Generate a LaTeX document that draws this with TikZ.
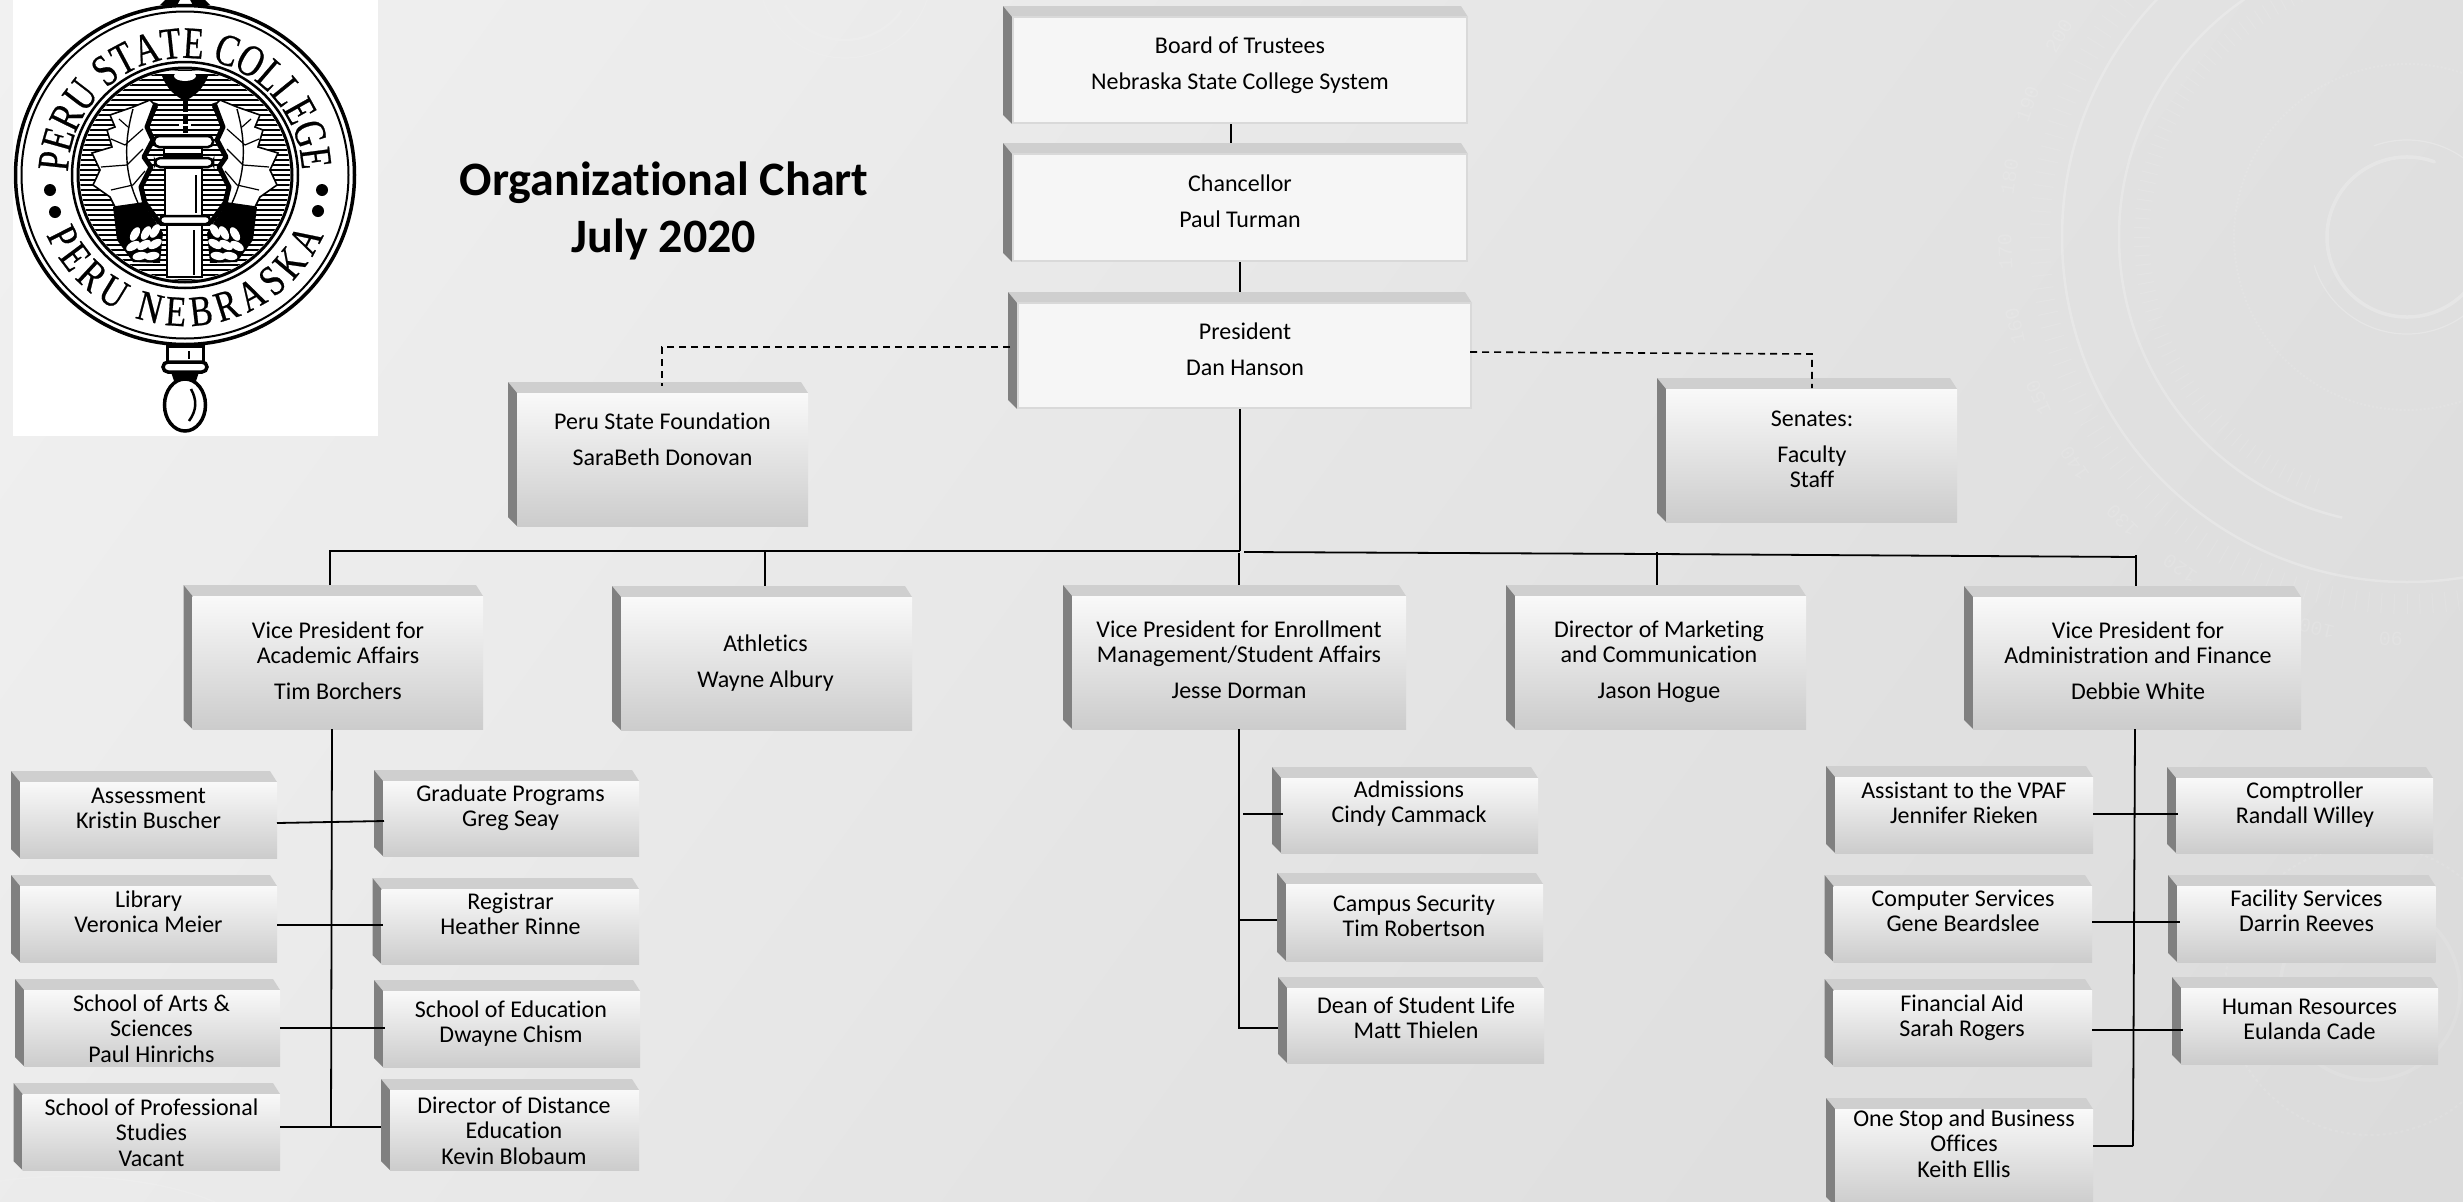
\documentclass[tikz,border=0pt]{standalone}
\usepackage{fontspec}
\usetikzlibrary{calc,decorations.text}
\setmainfont[Ligatures=NoCommon]{Carlito}
\newfontfamily\sealfontA[FakeStretch=0.76,FakeBold=0.5]{Liberation Serif}
\newfontfamily\sealfontB[FakeStretch=0.8,FakeBold=0.5]{Liberation Serif}
\newfontfamily\dialfont{Liberation Mono}
\newcommand{\sealTop}{\sealfontA\fontsize{45}{45}\selectfont}
\newcommand{\sealBot}{\sealfontB\fontsize{43}{43}\selectfont}
\newcommand{\orgbox}[9]{%
  \pgfmathsetmacro\obW{#4-#2}\pgfmathsetmacro\obH{#5-#3}%
  \pgfmathsetmacro\obX{(#2+#4)/2}\pgfmathsetmacro\obY{(#3+#5)/2}%
  \pgfmathsetmacro\obD{2*(#7-\obX)}\pgfmathsetmacro\obU{\obY-#8}%
  \node[#6,minimum width=\obW pt,minimum height=\obH pt] (#1) at (\obX,\obY)
    {\makebox[0pt]{\hspace{\obD pt}\raisebox{\obU pt}[0pt][0pt]{\begin{tabular}[t]{@{}c@{}}#9\end{tabular}}}};%
}
\definecolor{bevelDark}{HTML}{808080}
\definecolor{bevelTop}{HTML}{CFCFCF}
\definecolor{faceFlat}{HTML}{F6F6F6}
\definecolor{faceEdge}{HTML}{D9D9D9}
\definecolor{faceHigh}{HTML}{F9F9F9}
\definecolor{faceLow}{HTML}{CCCCCC}
\tikzset{
  boxbase/.style={inner sep=0pt,outer sep=0pt,font=\fontsize{24}{25.7}\selectfont},
  flatbox/.style={boxbase,path picture={
    \fill[bevelTop] (path picture bounding box.north west) -- ($(path picture bounding box.north east)+(-7,0)$) -- ($(path picture bounding box.north east)+(0,11)$) -- ($(path picture bounding box.north west)+(9,11)$) -- cycle;
    \fill[bevelDark] (path picture bounding box.north west) -- ($(path picture bounding box.north west)+(9,11)$) -- ($(path picture bounding box.south west)+(9,0)$) -- ($(path picture bounding box.south west)+(0,-9)$) -- cycle;
    \fill[faceFlat,draw=faceEdge,line width=2pt] ($(path picture bounding box.north west)+(10,11)$) rectangle ($(path picture bounding box.south east)+(-1,-1)$);
  }},
  gradbox/.style={boxbase,path picture={
    \fill[bevelTop] (path picture bounding box.north west) -- ($(path picture bounding box.north east)+(-7,0)$) -- ($(path picture bounding box.north east)+(0,11)$) -- ($(path picture bounding box.north west)+(9,11)$) -- cycle;
    \fill[bevelDark] (path picture bounding box.north west) -- ($(path picture bounding box.north west)+(9,11)$) -- ($(path picture bounding box.south west)+(9,0)$) -- ($(path picture bounding box.south west)+(0,-9)$) -- cycle;
    \shade[top color=faceHigh,bottom color=faceLow] ($(path picture bounding box.north west)+(9,11)$) rectangle (path picture bounding box.south east);
  }},
  conn/.style={black,line width=1.8pt},
  dashconn/.style={black,line width=1.6pt,dash pattern=on 7pt off 5pt},
  faint/.style={white,opacity=.22},
  fainter/.style={white,opacity=.1},
}
\begin{document}
\begin{tikzpicture}[x=1pt,y=-1pt]
\useasboundingbox (0,0) rectangle (2463,1202);
\clip (0,0) rectangle (2463,1202);
% background: diagonal gradient in one-level steps
\foreach \k in {0,...,46} {
  \pgfmathsetmacro\ss{\k/2}
  \pgfmathsetmacro\pp{(14+\ss)/2.55}
  \pgfmathsetmacro\xa{\ss/17*2463}
  \pgfmathsetmacro\xb{(\ss-6)/17*2463}
  \fill[black!\pp] (\xa,0) -- (5000,0) -- (5000,1202) -- (\xb,1202) -- cycle;
}
% faint dial decoration
\begin{scope}[shift={(2407,237)},y=1pt]
  \draw[faint,line width=2.5pt] (0,0) circle (345);
  \draw[faint,line width=2.5pt] (95:288) arc (95:257:288);
  \draw[faint,line width=3.5pt,line cap=round] (70:80) arc (70:340:80);
  \draw[faint,line width=1.2pt] (30:97) arc (30:110:97);
  \draw[faint,line width=1.2pt] (197:97) arc (197:330:97);
  \draw[fainter,line width=2pt,dotted] (0,0) circle (173);
  \foreach \aa in {128,130,...,300} \draw[fainter,line width=1pt] (\aa:357) -- (\aa:377);
  \foreach \aa in {98,100,...,250} \draw[fainter,line width=1pt] (\aa:257) -- (\aa:273);
  \foreach \nn in {200,190,...,90} {
    \pgfmathsetmacro\dd{150+(200-\nn)*1.07}
    \pgfmathsetmacro\rr{\dd-90}
    \node[text=white,opacity=.12,rotate=\rr,font=\dialfont\fontsize{20}{20}\selectfont] at (\dd:402) {\nn};
  }
\end{scope}
\begin{scope}[shift={(2370,990)},y=1pt]
  \draw[fainter,line width=3.5pt] (0,0) circle (90);
  \draw[fainter,line width=2pt,dashed] (0,0) circle (145);
\end{scope}
\begin{scope}[shift={(845,-29)},y=1pt]
  \draw[fainter,line width=2.5pt] (-150:69) arc (-150:-35:69);
  \draw[fainter,line width=1.2pt] (0,0) circle (87);
\end{scope}
\draw[fainter,line width=1.5pt] (0,1181) .. controls (60,1172) and (150,1175) .. (215,1202);
% logo
\fill[white] (13,0) rectangle (378,436);
\begin{scope}[shift={(185,175)},y=1pt]
  \draw[line width=3.5pt] (0,0) circle (169.5);
  \draw[line width=2pt] (0,0) circle (163.5);
  \draw[line width=2.5pt] (0,0) circle (113);
  \draw[line width=3pt] (0,0) circle (107);
  \begin{scope}
    \clip (0,0) circle (105);
    \foreach \yy in {-105,-100,...,105} \draw[line width=2pt] (-105,\yy) -- (105,\yy);
  \end{scope}
  \path[decorate,decoration={text along path,raise=-15pt,text={|\sealTop|PERU STATE COLLEGE},text align={fit to path}}] (178:132) arc (178:3:132);
  \path[decorate,decoration={text along path,raise=-15pt,text={|\sealBot|PERU NEBRASKA},text align={fit to path}}] (203:136) arc (203:337:136);
  \foreach \px/\py in {-135/-15,-130/-37,137/-15,133/-36} \fill (\px,\py) circle (6);
  % leaves, acorns
  \foreach \sx in {1,-1} {
    \begin{scope}[xscale=\sx]
      \fill[white,draw=black,line width=1.6pt] (-35,75) -- (-52,68) -- (-75,60) -- (-70,48) -- (-78,45) -- (-73,28) -- (-93,22) -- (-85,5) -- (-92,-10) -- (-75,-22) -- (-70,-32) -- (-42,-28) -- (-45,-12) -- (-35,8) -- (-42,18) -- (-33,35) -- (-38,48) -- (-28,68) -- cycle;
      \draw[line width=1.4pt] (-47,-28) .. controls (-60,0) and (-62,30) .. (-52,66);
      \draw[line width=1.2pt] (-58,10) -- (-84,8);
      \draw[line width=1.2pt] (-60,30) -- (-74,36);
      \draw[line width=1.2pt] (-57,48) -- (-66,56);
      \draw[line width=1.2pt] (-52,-10) -- (-74,-15);
      \draw[line width=1.2pt] (-58,10) -- (-42,26);
      \draw[line width=1.2pt] (-60,30) -- (-42,46);
      \draw[line width=1.2pt] (-52,-10) -- (-40,4);
      \draw[line width=5pt,line join=round] (-29,72) -- (-38,48) -- (-32,35) -- (-41,18) -- (-34,8) -- (-44,-12) -- (-40,-28) -- (-24,-50);
      \fill (-72,-32) -- (-42,-28) -- (-22,-58) -- (-25,-88) -- (-52,-87) -- (-68,-65) -- cycle;
      \foreach \ex/\ey/\er in {-30/-56/60,-39/-58/60,-30/-69/30,-41/-70/30,-52/-71/30,-33/-81/10,-45/-81/10,-50/-59/60} \fill[white,rotate around={\er:(\ex,\ey)}] (\ex,\ey) ellipse (7.5 and 4);
    \end{scope}
  }
  % torch
  \fill (-23,99) .. controls (-18,85) and (-8,78) .. (0,74) .. controls (8,78) and (18,85) .. (23,99) -- cycle;
  \fill[white] (0,99) ellipse (11 and 5);
  \draw[line width=5pt] (0,76) -- (0,42);
  \draw[line width=1.5pt,white] (-6,62) -- (6,62) (-6,50) -- (6,50);
  \fill[white,draw=black,line width=2.5pt,rounded corners=5pt] (-31,39) rectangle (28,28);
  \fill[black] (-22,28) rectangle (18,18);
  \fill[white] (-20,26) rectangle (16,22);
  \fill[white,draw=black,line width=2.5pt,rounded corners=5pt] (-30,17) rectangle (28,8);
  \fill[white,draw=black,line width=2.5pt] (-20,7) rectangle (17,-42);
  \draw[line width=2.5pt] (11,0) -- (11,-38);
  \fill[white,draw=black,line width=2.5pt,rounded corners=4pt] (-25,-41) rectangle (25,-49);
  \fill[white,draw=black,line width=2.5pt] (-18,-50) rectangle (17,-102);
  \draw[line width=2.5pt] (9,-55) -- (9,-100);
  % pendants
  \fill (-25,170) -- (-18,177) -- (-4,177) -- (-9,168) -- cycle;
  \fill (25,170) -- (18,177) -- (4,177) -- (9,168) -- cycle;
  \fill[white,draw=black,line width=3pt] (-18,-171) rectangle (18,-187);
  \draw[line width=2pt] (4,-176) -- (4,-184);
  \fill[white,draw=black,line width=3.5pt,rounded corners=5pt] (-22,-187) rectangle (22,-197);
  \fill[black] (-14,-197) -- (14,-197) -- (11,-206) -- (-11,-206) -- cycle;
  \fill[white,draw=black,line width=3.5pt] (0,-230) ellipse (20.5 and 26);
  \draw[line width=2.5pt] (6,-214) .. controls (12,-225) and (12,-235) .. (4,-246);
\end{scope}
% title
\node[anchor=base,inner sep=0pt,font=\bfseries\fontsize{48}{57}\selectfont] (title) at (664,195)
  {\begin{tabular}[t]{@{}c@{}}Organizational Chart\\July 2020\end{tabular}};
% boxes
\orgbox{board}{1003}{6}{1468}{124}{flatbox}{1240}{53}{Board of Trustees\\[10.3pt]Nebraska State College System}
\orgbox{chancellor}{1003}{143}{1468}{262}{flatbox}{1240}{191}{Chancellor\\[10.3pt]Paul Turman}
\orgbox{president}{1008}{292}{1472}{409}{flatbox}{1245}{339}{President\\[10.3pt]Dan Hanson}
\orgbox{peru}{508}{382}{808}{526}{gradbox}{662.5}{429}{Peru State Foundation\\[10.3pt]SaraBeth Donovan}
\orgbox{senates}{1657}{378}{1957}{522}{gradbox}{1812}{426}{Senates:\\[10.3pt]Faculty\\Staff}
\orgbox{vpacad}{183.5}{585}{483}{729}{gradbox}{338}{638}{Vice President for\\Academic Affairs\\[10.3pt]Tim Borchers}
\orgbox{athletics}{612}{586}{912}{730}{gradbox}{765.5}{651}{Athletics\\[10.3pt]Wayne Albury}
\orgbox{vpenroll}{1063}{585}{1406}{729}{gradbox}{1239}{637}{Vice President for Enrollment\\Management/Student Affairs\\[10.3pt]Jesse Dorman}
\orgbox{marketing}{1506}{585}{1806}{729}{gradbox}{1659}{637}{Director of Marketing\\and Communication\\[10.3pt]Jason Hogue}
\orgbox{vpadmin}{1964}{586}{2301}{729}{gradbox}{2138}{638}{Vice President for\\Administration and Finance\\[10.3pt]Debbie White}
\orgbox{assess}{11}{771}{277}{858}{gradbox}{148.5}{803}{Assessment\\Kristin Buscher}
\orgbox{library}{11}{875}{277}{962}{gradbox}{148.5}{907}{Library\\Veronica Meier}
\orgbox{arts}{15}{979}{280}{1066}{gradbox}{151.5}{1011}{School of Arts \&\\Sciences\\Paul Hinrichs}
\orgbox{profstud}{13.5}{1083}{280}{1170}{gradbox}{151.5}{1115}{School of Professional\\Studies\\Vacant}
\orgbox{graduate}{374}{770}{639}{856}{gradbox}{510.5}{801}{Graduate Programs\\Greg Seay}
\orgbox{registrar}{372.5}{878}{639}{964}{gradbox}{510.5}{909}{Registrar\\Heather Rinne}
\orgbox{education}{374}{980}{640}{1067}{gradbox}{511}{1017}{School of Education\\Dwayne Chism}
\orgbox{distance}{381}{1079}{639}{1170}{gradbox}{514}{1113}{Director of Distance\\Education\\Kevin Blobaum}
\orgbox{admissions}{1272}{767}{1538}{853}{gradbox}{1409}{797}{Admissions\\Cindy Cammack}
\orgbox{campus}{1277}{873}{1543}{961}{gradbox}{1414}{911}{Campus Security\\Tim Robertson}
\orgbox{dean}{1278}{977}{1544}{1063}{gradbox}{1416}{1013}{Dean of Student Life\\Matt Thielen}
\orgbox{assistant}{1826}{766}{2093}{853}{gradbox}{1964}{798}{Assistant to the VPAF\\Jennifer Rieken}
\orgbox{computer}{1824.5}{875}{2092}{962}{gradbox}{1963}{906}{Computer Services\\Gene Beardslee}
\orgbox{finaid}{1824.5}{979}{2092}{1066}{gradbox}{1962}{1011}{Financial Aid\\Sarah Rogers}
\orgbox{onestop}{1826}{1098}{2093}{1206}{gradbox}{1964}{1126}{One Stop and Business\\Offices\\Keith Ellis}
\orgbox{comptroller}{2167}{767}{2433}{853}{gradbox}{2305}{798}{Comptroller\\Randall Willey}
\orgbox{facility}{2168}{875}{2435.5}{962}{gradbox}{2306.5}{906}{Facility Services\\Darrin Reeves}
\orgbox{humanres}{2172}{977}{2438}{1064}{gradbox}{2309.5}{1014}{Human Resources\\Eulanda Cade}
% junctions
\coordinate (jBC) at (1231,0);
\coordinate (jCP) at (1240,0);
\coordinate (busL) at (330,551);
\coordinate (busC) at (1240,551);
\coordinate (busR) at (1244,552);
\coordinate (busM) at (1657,554);
\coordinate (busA) at (2136,557);
\coordinate (busAtop) at (2136,555);
\coordinate (busE) at (1239,553);
\coordinate (busAth) at (765,552);
\coordinate (busMtop) at (1657,552);
\coordinate (dashL) at (662,347);
\coordinate (dashLs) at (1010,347);
\coordinate (dashLe) at (662,386);
\coordinate (dashRs) at (1470,352);
\coordinate (dashR) at (1812,354);
\coordinate (dashRe) at (1812,388);
\coordinate (tL) at (331,1127);
\coordinate (tLtop) at (332,0);
\coordinate (tC) at (1239,1028);
\coordinate (tR) at (2133,1146);
\coordinate (tRtop) at (2135,0);
\coordinate (jL1a) at (0,823);\coordinate (jL1b) at (0,821);
\coordinate (jL2) at (0,925);
\coordinate (jL3) at (0,1028);
\coordinate (jL4) at (0,1127);
\coordinate (jC1) at (1243,814);
\coordinate (jC2) at (1239,920);
\coordinate (jR1) at (0,814);
\coordinate (jR2) at (0,922);
\coordinate (jR3) at (0,1030);
% connectors
\draw[conn] (board.south -| jBC) -- (chancellor.north -| jBC);
\draw[conn] (chancellor.south -| jCP) -- (president.north -| jCP);
\draw[conn] (president.south -| jCP) -- (busC);
\draw[conn] (vpacad.north -| busL) -- (busL) -- (busC);
\draw[conn] (busAth) -- (athletics.north -| busAth);
\draw[conn] (busE) -- (vpenroll.north -| busE);
\draw[conn] (busR) -- (busM) -- (busA);
\draw[conn] (busMtop) -- (marketing.north -| busMtop);
\draw[conn] (busAtop) -- (vpadmin.north -| busAtop);
\draw[dashconn] (dashLs) -- (dashL) -- (dashLe);
\draw[dashconn] (dashRs) -- (dashR) -- (dashRe);
% academic column
\draw[conn] (vpacad.south -| tLtop) -- (tL);
\draw[conn] (assess.east |- jL1a) -- ($(graduate.west |- jL1b)+(10,0)$);
\draw[conn] (library.east |- jL2) -- ($(registrar.west |- jL2)+(10,0)$);
\draw[conn] (arts.east |- jL3) -- ($(education.west |- jL3)+(11,0)$);
\draw[conn] (profstud.east |- jL4) -- (distance.west |- jL4);
% enrollment column
\draw[conn] (vpenroll.south -| tC) -- (tC) -- (dean.west |- tC);
\draw[conn] (jC1) -- ($(admissions.west |- jC1)+(11,0)$);
\draw[conn] (jC2) -- (campus.west |- jC2);
% admin column
\draw[conn] (vpadmin.south -| tRtop) -- (tR);
\draw[conn] (assistant.east |- jR1) -- ($(comptroller.west |- jR1)+(11,0)$);
\draw[conn] (computer.east |- jR2) -- ($(facility.west |- jR2)+(12,0)$);
\draw[conn] (finaid.east |- jR3) -- ($(humanres.west |- jR3)+(11,0)$);
\draw[conn] (onestop.east |- tR) -- (tR);
\end{tikzpicture}
\end{document}
